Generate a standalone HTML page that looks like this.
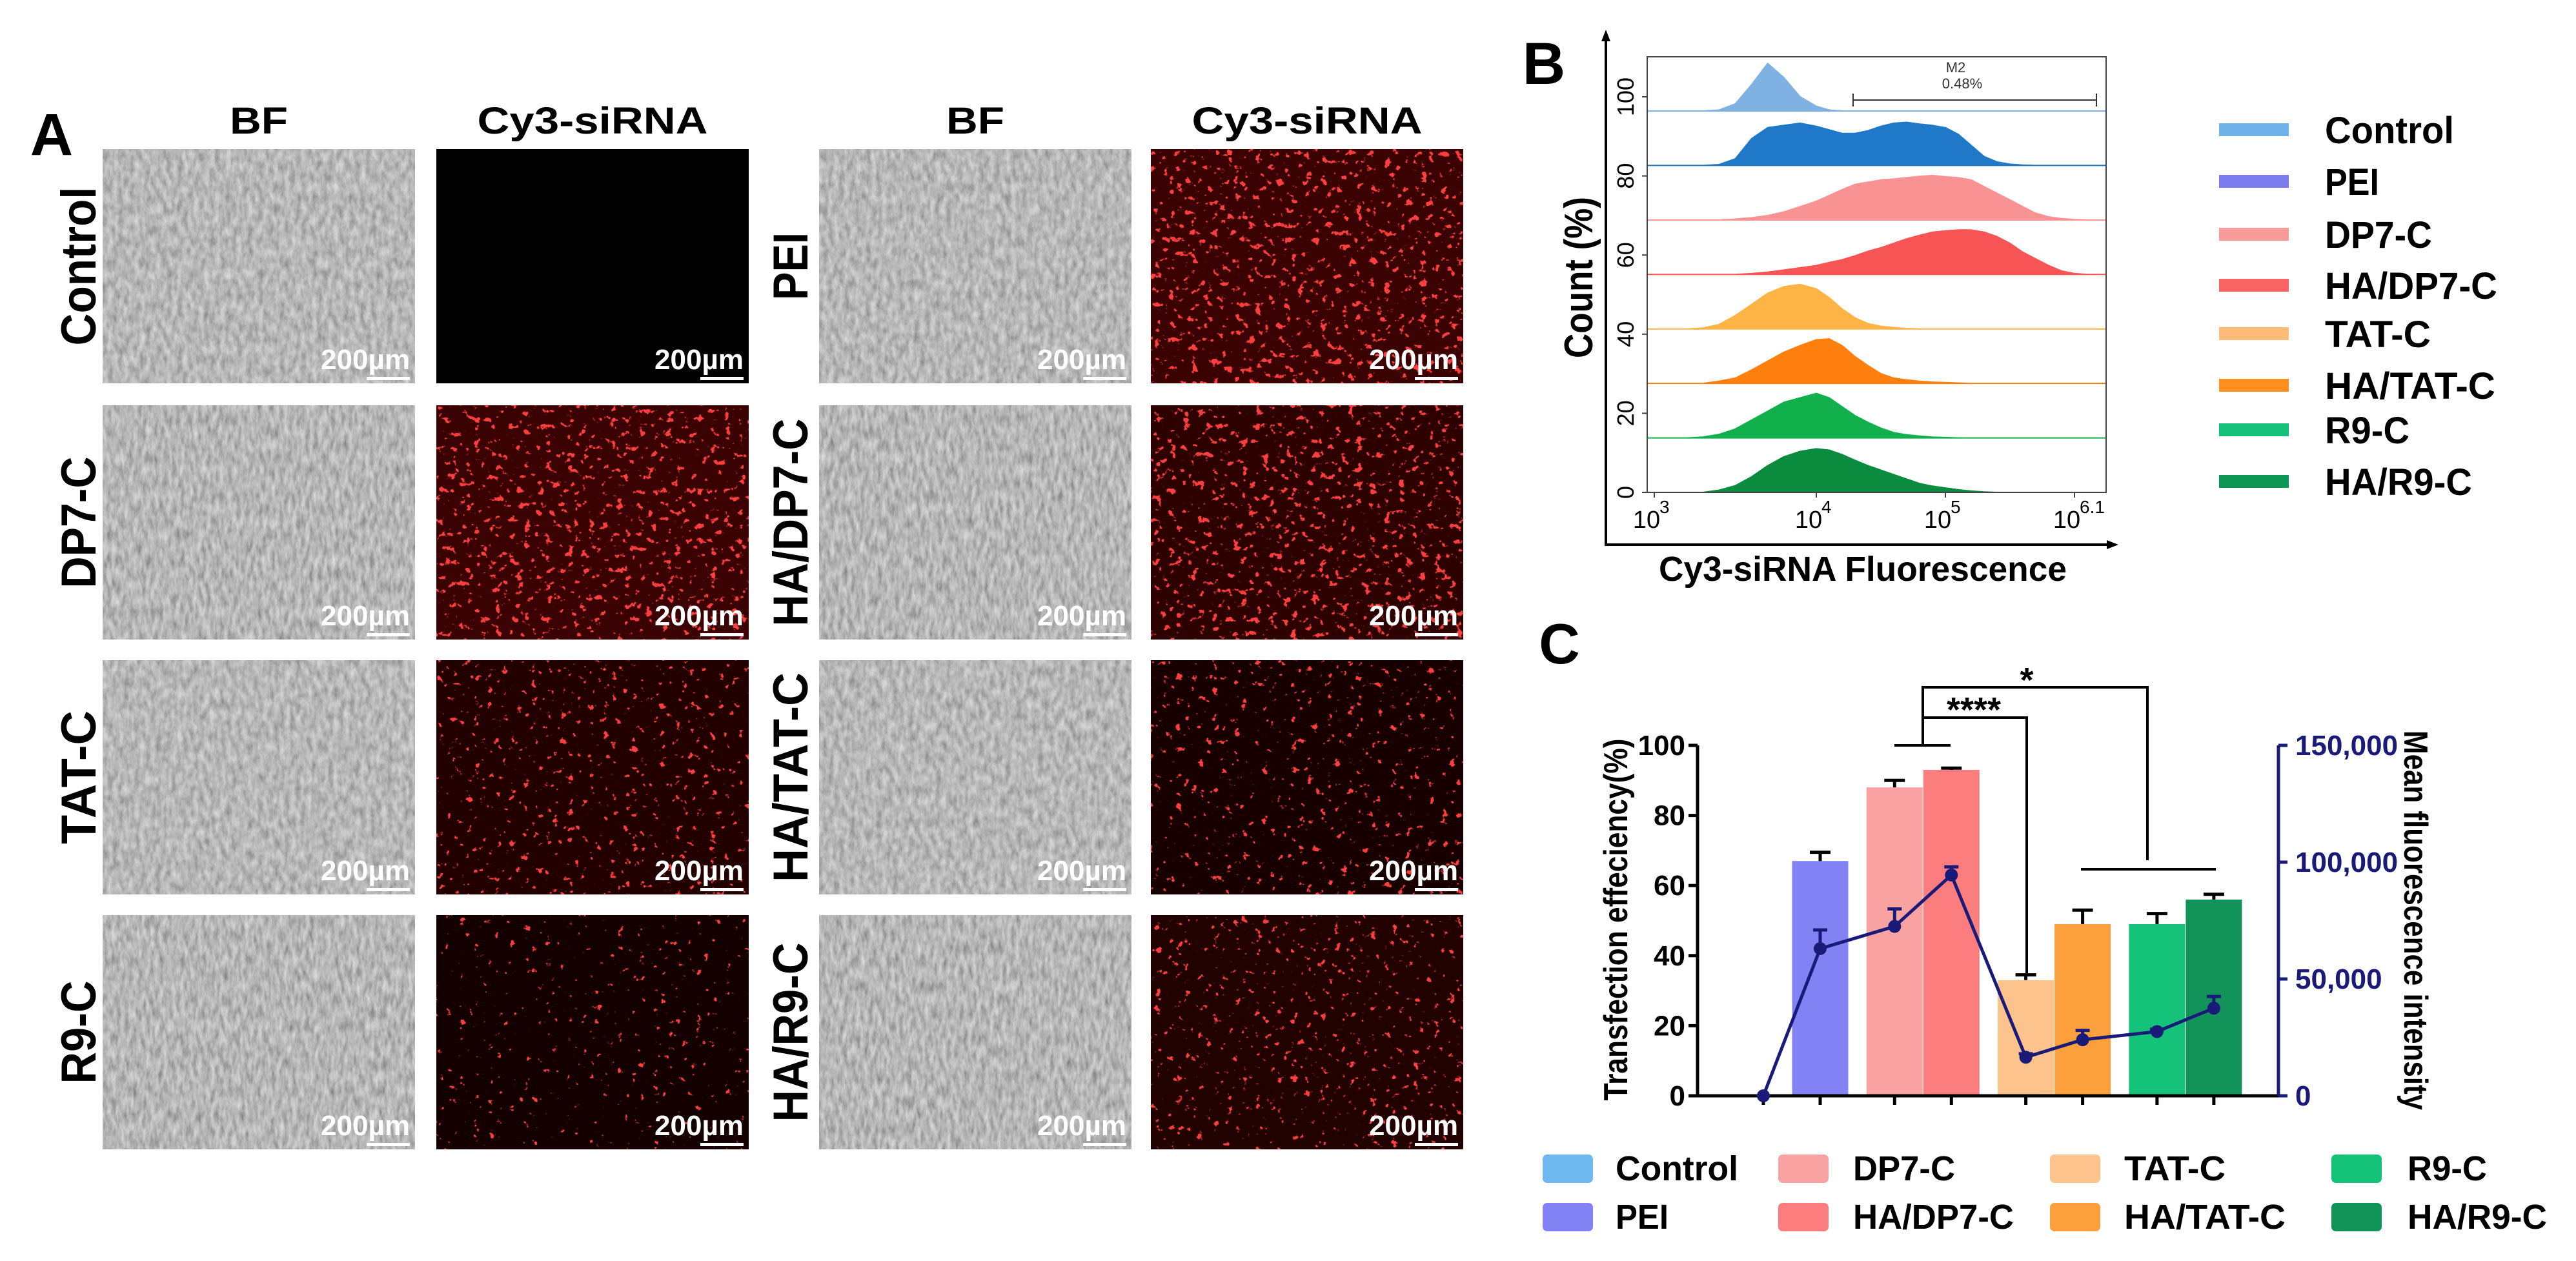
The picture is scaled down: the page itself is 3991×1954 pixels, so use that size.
<!DOCTYPE html>
<html><head><meta charset="utf-8"><style>
html,body{margin:0;padding:0;background:#fff}
svg{display:block}
text{font-family:"Liberation Sans Narrow","Liberation Sans",sans-serif}
</style></head>
<body>
<svg id="fig" xmlns="http://www.w3.org/2000/svg" width="3991" height="1954" viewBox="0 0 3991 1954">
<defs>
<filter id="gray1" x="0" y="0" width="1" height="1"><feTurbulence type="fractalNoise" baseFrequency="0.12 0.06" numOctaves="3" seed="3"/><feColorMatrix type="matrix" values="0.55 0 0 0 0.2  0.55 0 0 0 0.2  0.55 0 0 0 0.2  0 0 0 0 1"/></filter>
<filter id="gray2" x="0" y="0" width="1" height="1"><feTurbulence type="fractalNoise" baseFrequency="0.15 0.05" numOctaves="3" seed="7"/><feColorMatrix type="matrix" values="0.6 0 0 0 0.17  0.6 0 0 0 0.17  0.6 0 0 0 0.17  0 0 0 0 1"/></filter>
<filter id="redHi" x="0" y="0" width="1" height="1"><feTurbulence type="fractalNoise" baseFrequency="0.09" numOctaves="3" seed="11"/><feColorMatrix type="matrix" values="0 0 0 0 1  0 0 0 0 0.05  0 0 0 0 0.05  14 0 0 0 -8.9"/></filter>
<filter id="redMd" x="0" y="0" width="1" height="1"><feTurbulence type="fractalNoise" baseFrequency="0.09" numOctaves="3" seed="21"/><feColorMatrix type="matrix" values="0 0 0 0 1  0 0 0 0 0.05  0 0 0 0 0.05  14 0 0 0 -9.4"/></filter>
<filter id="redLo" x="0" y="0" width="1" height="1"><feTurbulence type="fractalNoise" baseFrequency="0.09" numOctaves="3" seed="31"/><feColorMatrix type="matrix" values="0 0 0 0 1  0 0 0 0 0.05  0 0 0 0 0.05  14 0 0 0 -9.9"/></filter>
</defs>
<g id="panelA"></g>
<g id="panelB"></g>
<g id="panelC"></g>
</svg>
<script>
// ---------- Panel B data ----------
const histNames = ["Control","PEI","DP7-C","HA/DP7-C","TAT-C","HA/TAT-C","R9-C","HA/R9-C"];
const histStart = [3.4,3.4,3.5,3.6,3.3,3.4,3.3,3.4];
const histControl = [0.02,0.15,0.55,1.0,0.7,0.3,0.1,0.02];
const histPEI = [0.02,0.15,0.6,0.85,0.9,0.95,0.88,0.8,0.72,0.72,0.78,0.88,0.95,0.97,0.93,0.9,0.85,0.7,0.45,0.2,0.08,0.03,0.01];
const histDP7 = [0.02,0.05,0.1,0.18,0.3,0.42,0.55,0.68,0.8,0.85,0.9,0.92,0.95,0.98,1.0,0.97,0.95,0.9,0.75,0.6,0.45,0.3,0.15,0.07,0.03,0.01];
const histHADP7 = [0.02,0.05,0.1,0.15,0.2,0.27,0.33,0.42,0.52,0.6,0.7,0.8,0.88,0.95,0.98,1.0,1.0,0.95,0.85,0.7,0.5,0.35,0.2,0.08,0.02];
const histTAT = [0.02,0.1,0.3,0.55,0.8,0.95,1.0,0.9,0.7,0.45,0.25,0.12,0.06,0.03,0.01];
const histHATAT = [0.05,0.12,0.3,0.5,0.7,0.85,0.98,1.0,0.85,0.6,0.4,0.22,0.12,0.08,0.05,0.03,0.02,0.01];
const histR9 = [0.02,0.08,0.2,0.4,0.6,0.8,0.9,1.0,0.9,0.7,0.5,0.35,0.22,0.12,0.07,0.04,0.02,0.01];
const histHAR9 = [0.05,0.15,0.35,0.6,0.8,0.92,0.98,0.95,0.85,0.72,0.6,0.5,0.4,0.3,0.2,0.14,0.1,0.06,0.03,0.01];
const histPeakScale = [1.07,1,1,1,1,1,1,1];
const bYTicks = [0,20,40,60,80,100];
const bXTickExp = ["3","4","5","6.1"];
const bXTickVal = [3,4,5,6];

// ---------- Panel C data ----------
const cCategories = ["Control","PEI","DP7-C","HA/DP7-C","TAT-C","HA/TAT-C","R9-C","HA/R9-C"];
const cEfficiency = [0,67,88,93,33,49,49,56];
const cEfficiencyErr = [0,2.5,2,0.5,1.5,4,3,1.5];
const cMFI = [0,63000,72500,94500,16500,24000,27500,37500];
const cMFIErr = [0,8000,7500,3500,1500,4000,1000,5000];
const cLeftTicks = [0,20,40,60,80,100];
const cRightTicks = [0,50000,100000,150000];
const cRightTickLabels = ["0","50,000","100,000","150,000"];

const NS="http://www.w3.org/2000/svg";
function mk(tag,attrs,parent){const e=document.createElementNS(NS,tag);for(const k in attrs)e.setAttribute(k,attrs[k]);parent.appendChild(e);return e;}

// ---------- Panel A ----------
(function(){
const g=document.getElementById('panelA');
const colX=[159,676,1269,1783], rowY=[231,628,1023,1418], W=484, H=363;
let t;
t=mk('text',{x:80,y:240,'font-size':92,'font-weight':'bold','text-anchor':'middle'},g);t.textContent='A';


const heads=[["BF",401,90],["Cy3-siRNA",918,357],["BF",1511,90],["Cy3-siRNA",2025,357]];
heads.forEach(h=>{const e=mk('text',{x:h[1],y:207,'font-size':58,'font-weight':'bold','text-anchor':'middle',textLength:h[2],lengthAdjust:'spacingAndGlyphs'},g);e.textContent=h[0];

});
const leftLab=[["Control",246],["DP7-C",204],["TAT-C",207],["R9-C",160]];
const rightLab=[["PEI",105],["HA/DP7-C",322],["HA/TAT-C",325],["HA/R9-C",278]];
const redLevel=[["none","redHi"],["redHi","redHi"],["redMd","redMd"],["redLo","redMd"]];
const redBase=[["#000","#3a0202"],["#3a0202","#2e0101"],["#220000","#180000"],["#140000","#220101"]];
for(let r=0;r<4;r++){
  const cy=rowY[r]+H/2;
  [[leftLab[r],121],[rightLab[r],1224]].forEach(L=>{
    const e=mk('text',{x:0,y:0,'font-size':76,'font-weight':'bold','text-anchor':'middle',textLength:L[0][1],lengthAdjust:'spacingAndGlyphs',transform:`translate(${L[1]+27},${cy}) rotate(-90)`,style:'font-family:"Liberation Sans",sans-serif'},g);
    e.textContent=L[0][0];
    
    
  });
  for(let c=0;c<4;c++){
    const x=colX[c], y=rowY[r];
    const isRed=c%2==1, side=c<2?0:1;
    let img;
    if(!isRed){
      img=mk('rect',{x:x,y:y,width:W,height:H,fill:'#999',filter:`url(#${(r+c)%2?'gray2':'gray1'})`},g);
      
      
    } else {
      img=mk('rect',{x:x,y:y,width:W,height:H,fill:redBase[r][side]},g);
      
      
      const lv=redLevel[r][side];
      if(lv!=='none'){const o=mk('rect',{x:x,y:y,width:W,height:H,fill:'#f00',filter:`url(#${lv})`},g);
        
        }
    }
    const s=mk('text',{x:x+W-8,y:y+H-22,'font-size':44,'font-weight':'bold','text-anchor':'end',fill:'#fff',textLength:138,lengthAdjust:'spacingAndGlyphs'},g);
    s.textContent='200µm';
    
    
    const b=mk('rect',{x:x+W-75,y:y+H-10,width:67,height:5,fill:'#fff'},g);
    
    
  }
}
})();

// ---------- Panel B ----------
const histColors=["#7fb2e3","#1f78c8","#f99393","#f75555","#fdb444","#ff7f0f","#12b04d","#0b8b3d"];
const legBColors=["#6fb2ea","#7c7cf0","#f99a9a","#f86363","#fdbb7a","#fd8f1e","#15c07a","#0e9656"];
const histSeries=[histControl,histPEI,histDP7,histHADP7,histTAT,histHATAT,histR9,histHAR9];
(function(){
const g=document.getElementById('panelB');
const boxL=2552,boxR=3263,boxT=88,boxB=763;
const bx0=[3,4,5,6], bpx=[2563,2814,3014,3214];
function hx(l){
  let i=0; if(l>=bx0[2])i=2; else if(l>=bx0[1])i=1;
  return bpx[i]+(l-bx0[i])*(bpx[i+1]-bpx[i])/(bx0[i+1]-bx0[i]);
}
const yScale=(boxB-150)/100;
function by(v){return boxB - v*yScale;}
let t=mk('text',{x:2392,y:130,'font-size':92,'font-weight':'bold','text-anchor':'middle',style:'font-family:"Liberation Sans",sans-serif'},g);t.textContent='B';


const rowH=(boxB-172)/7;
histSeries.forEach((vals,i)=>{
  const base=172+i*rowH;
  const hmax=69*histPeakScale[i];
  let d=`M${boxL},${base} L${hx(histStart[i]-0.1)},${base}`;
  vals.forEach((v,k)=>{d+=` L${hx(histStart[i]+k*0.1).toFixed(1)},${(base-v*hmax).toFixed(1)}`;});
  d+=` L${hx(histStart[i]+vals.length*0.1)},${base} L${boxR},${base}`;
  const p=mk('path',{d:d+` Z`,fill:histColors[i],stroke:histColors[i],'stroke-width':2,'stroke-linejoin':'round'},g);
  
  
});
const box=mk('rect',{x:boxL,y:boxT,width:boxR-boxL,height:boxB-boxT,fill:'none',stroke:'#444','stroke-width':2},g);


const ax=mk('path',{d:`M2488,52 L2488,844 L3276,844`,fill:'none',stroke:'#000','stroke-width':4},g);


const ar=mk('path',{d:`M2488,46 L2481,64 L2495,64 Z M3282,844 L3264,837 L3264,851 Z`,fill:'#000'},g);


bYTicks.forEach(v=>{
  const y=by(v);
  const tk=mk('line',{x1:boxL-8,x2:boxL,y1:y,y2:y,stroke:'#444','stroke-width':2},g);
  
  
  const e=mk('text',{x:0,y:0,'font-size':36,'text-anchor':'middle',transform:`translate(2531,${y}) rotate(-90)`,style:'font-family:"Liberation Sans",sans-serif'},g);
  e.textContent=String(v);
  
  
});
bXTickVal.forEach((v,i)=>{
  const x=hx(v);
  const tk=mk('line',{x1:x,x2:x,y1:boxB,y2:boxB+8,stroke:'#444','stroke-width':2},g);
  
  
  const e=mk('text',{x:x-12,y:818,'font-size':38,'text-anchor':'middle'},g);
  e.textContent='10';
  
  
  const s=mk('text',{x:x+8,y:795,'font-size':28,'text-anchor':'start'},g);
  s.textContent=bXTickExp[i];
  
  
});
t=mk('text',{x:0,y:0,'font-size':62,'font-weight':'bold','text-anchor':'middle',textLength:250,lengthAdjust:'spacingAndGlyphs',transform:`translate(2467,430) rotate(-90)`,style:'font-family:"Liberation Sans",sans-serif'},g);
t.textContent='Count (%)';


t=mk('text',{x:2886,y:900,'font-size':54,'font-weight':'bold','text-anchor':'middle',textLength:632,lengthAdjust:'spacingAndGlyphs'},g);
t.textContent='Cy3-siRNA Fluorescence';


const gate=mk('path',{d:`M2871,155 L3248,155 M2871,145 L2871,165 M3248,145 L3248,165`,stroke:'#333','stroke-width':2,fill:'none'},g);


t=mk('text',{x:3030,y:112,'font-size':22,'text-anchor':'middle',fill:'#333'},g);t.textContent='M2';


t=mk('text',{x:3040,y:137,'font-size':22,'text-anchor':'middle',fill:'#333'},g);t.textContent='0.48%';


const legLen=[200,84,166,267,164,264,131,228];
const legY=[201,281,363,442,517,597,666,746];
histNames.forEach((n,i)=>{
  const r=mk('rect',{x:3438,y:legY[i]-10,width:108,height:20,fill:legBColors[i]},g);
  
  
  const e=mk('text',{x:3602,y:legY[i]+21,'font-size':58,'font-weight':'bold',textLength:legLen[i],lengthAdjust:'spacingAndGlyphs'},g);
  e.textContent=n;
  
  
});
})();

// ---------- Panel C ----------
const barColors=["#6fb8f0","#8282f5","#f9a2a2","#fb7d7d","#fdc38c","#fba03c","#14c27a","#12935a"];
(function(){
const g=document.getElementById('panelC');
const L=2630,R=3530,y0=1698,yTop=1155,navy="#1a1a78";
function yl(v){return y0-(v/100)*(y0-yTop);}
function yr(v){return y0-(v/150000)*(y0-yTop);}
function xc(i){return 2776+203.3*Math.floor(i/2)+(i%2?44:-44);}
const bw=87;
let t=mk('text',{x:2416,y:1028,'font-size':88,'font-weight':'bold','text-anchor':'middle',style:'font-family:"Liberation Sans",sans-serif'},g);t.textContent='C';


cCategories.forEach((c,i)=>{
  const v=cEfficiency[i]; if(v<=0)return;
  const b=mk('rect',{x:xc(i)-bw/2,y:yl(v),width:bw,height:y0-yl(v),fill:barColors[i]},g);
  
  
  const e=cEfficiencyErr[i];
  const eb=mk('path',{d:`M${xc(i)},${yl(v)} L${xc(i)},${yl(v+e)} M${xc(i)-16},${yl(v+e)} L${xc(i)+16},${yl(v+e)}`,stroke:'#000','stroke-width':5,fill:'none'},g);
  
  
});
const axes=mk('path',{d:`M${L},${yTop} L${L},${y0} L${R},${y0}`,stroke:'#000','stroke-width':5,fill:'none'},g);


const rax=mk('line',{x1:R,x2:R,y1:yTop,y2:y0,stroke:navy,'stroke-width':5},g);


cLeftTicks.forEach(v=>{
  const tk=mk('line',{x1:L-14,x2:L,y1:yl(v),y2:yl(v),stroke:'#000','stroke-width':5},g);
  
  
  const e=mk('text',{x:2611,y:yl(v)+15,'font-size':44,'font-weight':'bold','text-anchor':'end'},g);
  e.textContent=String(v);
  
  
});
cRightTicks.forEach((v,i)=>{
  const tk=mk('line',{x1:R,x2:R+14,y1:yr(v),y2:yr(v),stroke:navy,'stroke-width':5},g);
  
  
  const e=mk('text',{x:3556,y:yr(v)+15,'font-size':44,'font-weight':'bold',fill:navy},g);
  e.textContent=cRightTickLabels[i];
  
  
});
cCategories.forEach((c,i)=>{
  const tk=mk('line',{x1:xc(i),x2:xc(i),y1:y0,y2:y0+14,stroke:'#000','stroke-width':5},g);
  
  
});
t=mk('text',{x:0,y:0,'font-size':52,'font-weight':'bold','text-anchor':'middle',textLength:561,lengthAdjust:'spacingAndGlyphs',transform:`translate(2521,1425) rotate(-90)`,style:'font-family:"Liberation Sans",sans-serif'},g);
t.textContent='Transfection effeciency(%)';


t=mk('text',{x:0,y:0,'font-size':52,'font-weight':'bold','text-anchor':'middle',textLength:588,lengthAdjust:'spacingAndGlyphs',transform:`translate(3725,1426) rotate(90)`,style:'font-family:"Liberation Sans",sans-serif'},g);
t.textContent='Mean fluorescence intensity';


let d='';
cMFI.forEach((v,i)=>{d+=(i?' L':'M')+xc(i)+','+yr(v);});
const ln=mk('path',{d:d,stroke:navy,'stroke-width':5,fill:'none'},g);


cMFI.forEach((v,i)=>{
  const e=cMFIErr[i];
  if(e>0){const eb=mk('path',{d:`M${xc(i)},${yr(v)} L${xc(i)},${yr(v+e)} M${xc(i)-11},${yr(v+e)} L${xc(i)+11},${yr(v+e)}`,stroke:navy,'stroke-width':5,fill:'none'},g);
  
  }
  const p=mk('circle',{cx:xc(i),cy:yr(v),r:10,fill:navy},g);
  
  
});
const sig=mk('path',{d:`M2935,1155 L3022,1155 M2979,1155 L2979,1065 L3327,1065 L3327,1333 M2979,1112 L3140,1112 L3140,1508 M3224,1347 L3433,1347`,stroke:'#000','stroke-width':4,fill:'none'},g);


t=mk('text',{x:3058,y:1118,'font-size':54,'font-weight':'bold','text-anchor':'middle'},g);t.textContent='****';


t=mk('text',{x:3140,y:1072,'font-size':54,'font-weight':'bold','text-anchor':'middle'},g);t.textContent='*';


const lx=[2390,2755,3176,3612], tx=[2503,2871,3291,3730];
const ly=[1811,1886];
const lens=[190,82,158,249,157,250,123,216];
cCategories.forEach((c,i)=>{
  const col=Math.floor(i/2), row=i%2;
  const r=mk('rect',{x:lx[col],y:ly[row]-22,width:78,height:44,rx:7,fill:barColors[i]},g);
  
  
  const e=mk('text',{x:tx[col],y:ly[row]+18,'font-size':54,'font-weight':'bold',textLength:lens[i],lengthAdjust:'spacingAndGlyphs'},g);
  e.textContent=c;
  
  
});
})();
</script>
</body></html>
